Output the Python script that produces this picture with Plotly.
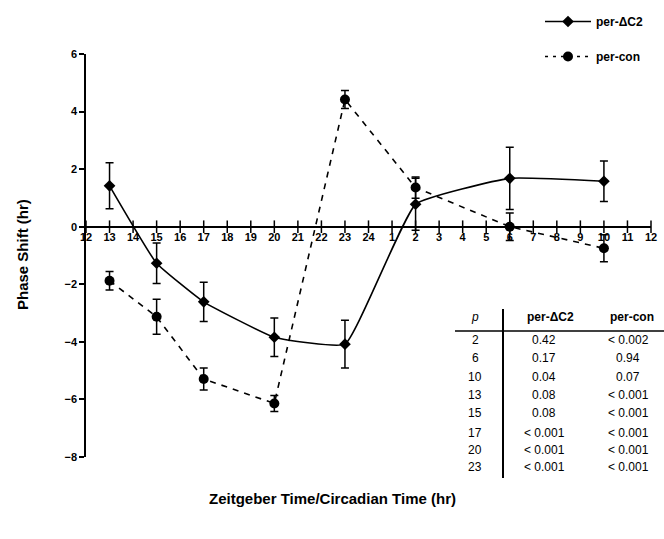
import plotly.graph_objects as go

# ---- data ----
x_tick_vals = list(range(12, 37))
x_tick_text = [str(v) for v in list(range(12, 25)) + list(range(1, 13))]
y_tick_vals = [-8, -6, -4, -2, 0, 2, 4, 6]

times = [13, 15, 17, 20, 23, 26, 30, 34]          # 26 = CT2, 30 = CT6, 34 = CT10
dc2_vals = [1.42, -1.27, -2.61, -3.84, -4.08, 0.78, 1.68, 1.58]
dc2_err = [0.80, 0.70, 0.68, 0.67, 0.83, 0.90, 1.08, 0.70]
con_vals = [-1.88, -3.13, -5.29, -6.14, 4.42, 1.36, 0.00, -0.75]
con_err = [0.32, 0.61, 0.38, 0.28, 0.31, 0.37, 0.48, 0.47]

table_p = ["2", "6", "10", "13", "15", "17", "20", "23"]
table_dc2 = ["0.42", "0.17", "0.04", "0.08", "0.08", "< 0.001", "< 0.001", "< 0.001"]
table_con = ["< 0.002", "0.94", "0.07", "< 0.001", "< 0.001", "< 0.001", "< 0.001", "< 0.001"]

# ---- layout geometry (pixels) ----
W, H = 664, 539
ML, MR, MT, MB = 86, 13, 54, 82
PW, PH = W - ML - MR, H - MT - MB


def px(x):
    return (x - ML) / PW


def py(y):
    return (H - MB - y) / PH


FONT = "Liberation Sans, Arial, sans-serif"

fig = go.Figure()

fig.add_trace(go.Scatter(
    x=times, y=dc2_vals, mode="lines+markers", name="per-ΔC2",
    line=dict(color="black", width=1.6, shape="spline", smoothing=0.35),
    marker=dict(symbol="diamond", size=9, color="black"),
    error_y=dict(type="data", array=dc2_err, color="black", thickness=1.5, width=4),
    showlegend=False))

fig.add_trace(go.Scatter(
    x=times, y=con_vals, mode="lines+markers", name="per-con",
    line=dict(color="black", width=1.6, dash="6px,6px"),
    marker=dict(symbol="circle", size=10, color="black"),
    error_y=dict(type="data", array=con_err, color="black", thickness=1.5, width=4),
    showlegend=False))

# crossing tick marks on the x axis (drawn at y=0)
fig.add_trace(go.Scatter(
    x=x_tick_vals, y=[0] * len(x_tick_vals), mode="markers",
    marker=dict(symbol="line-ns", size=9, line=dict(color="black", width=1.5)),
    showlegend=False, hoverinfo="skip", cliponaxis=False))

# legend entries
fig.add_trace(go.Scatter(
    x=[None], y=[None], mode="lines+markers", name="<b>per-ΔC2</b>", legendgroup="a",
    line=dict(color="black", width=1.6),
    marker=dict(symbol="diamond", size=9, color="black")))
fig.add_trace(go.Scatter(
    x=[None], y=[None], mode="lines+markers", name="<b>per-con</b>", legendgroup="b",
    line=dict(color="black", width=1.6, dash="3px,5px"),
    marker=dict(symbol="circle", size=10, color="black")))

annotations = []
# table
col_x = [475, 550, 632]
header_y = 317
row_y = [340, 358, 377, 395, 413, 433, 450, 467]
annotations.append(dict(x=px(col_x[0]), y=py(header_y), text="<i>p</i>"))
annotations.append(dict(x=px(col_x[1]), y=py(header_y), text="<b>per-ΔC2</b>"))
annotations.append(dict(x=px(col_x[2]), y=py(header_y), text="<b>per-con</b>"))
for i, yy in enumerate(row_y):
    annotations.append(dict(x=px(col_x[0]), y=py(yy), text=table_p[i]))
    annotations.append(dict(x=px(col_x[1] - 6), y=py(yy), text=table_dc2[i]))
    annotations.append(dict(x=px(col_x[2] - 4), y=py(yy), text=table_con[i]))
for a in annotations:
    a.update(xref="paper", yref="paper", showarrow=False, xanchor="center", yanchor="middle",
             font=dict(family=FONT, size=12, color="black"))

annotations.append(dict(x=px(22), y=py(255), xref="paper", yref="paper", showarrow=False,
                        xanchor="center", yanchor="middle",
                        text="<b>Phase Shift (hr)</b>", textangle=-90,
                        font=dict(family=FONT, size=15, color="black")))
annotations.append(dict(x=px(332), y=py(498), xref="paper", yref="paper", showarrow=False,
                        xanchor="center", yanchor="middle",
                        text="<b>Zeitgeber Time/Circadian Time (hr)</b>",
                        font=dict(family=FONT, size=15, color="black")))

shapes = [
    dict(type="line", xref="paper", yref="paper", x0=px(455), x1=px(664), y0=py(331), y1=py(331),
         line=dict(color="black", width=1.5)),
    dict(type="line", xref="paper", yref="paper", x0=px(503), x1=px(503), y0=py(309), y1=py(478),
         line=dict(color="black", width=2)),
]

fig.update_layout(
    width=W, height=H,
    margin=dict(l=ML, r=MR, t=MT, b=MB, autoexpand=False),
    paper_bgcolor="white", plot_bgcolor="white",
    font=dict(family=FONT, color="black"),
    annotations=annotations, shapes=shapes,
    legend=dict(x=px(540), y=py(7), xanchor="left", yanchor="top",
                font=dict(family=FONT, size=12, color="black"),
                itemwidth=46,
                tracegroupgap=16, bgcolor="rgba(0,0,0,0)"),
    xaxis=dict(range=[12, 36], tickvals=x_tick_vals, ticktext=x_tick_text,
               anchor="free", position=8 / 14, showline=True, linecolor="black", linewidth=1.5,
               ticks="", showgrid=False, zeroline=False,
               tickfont=dict(family=FONT, size=11, color="black", weight="bold")),
    yaxis=dict(range=[-8, 6], tickvals=y_tick_vals, showline=True, linecolor="black", linewidth=1.5,
               ticks="outside", ticklen=5, tickwidth=1.5, tickcolor="black",
               showgrid=False, zeroline=False,
               tickfont=dict(family=FONT, size=11, color="black", weight="bold")),
)

fig.write_html("out.html", config={"displayModeBar": False},
               post_script="document.body.style.margin='0px';")
